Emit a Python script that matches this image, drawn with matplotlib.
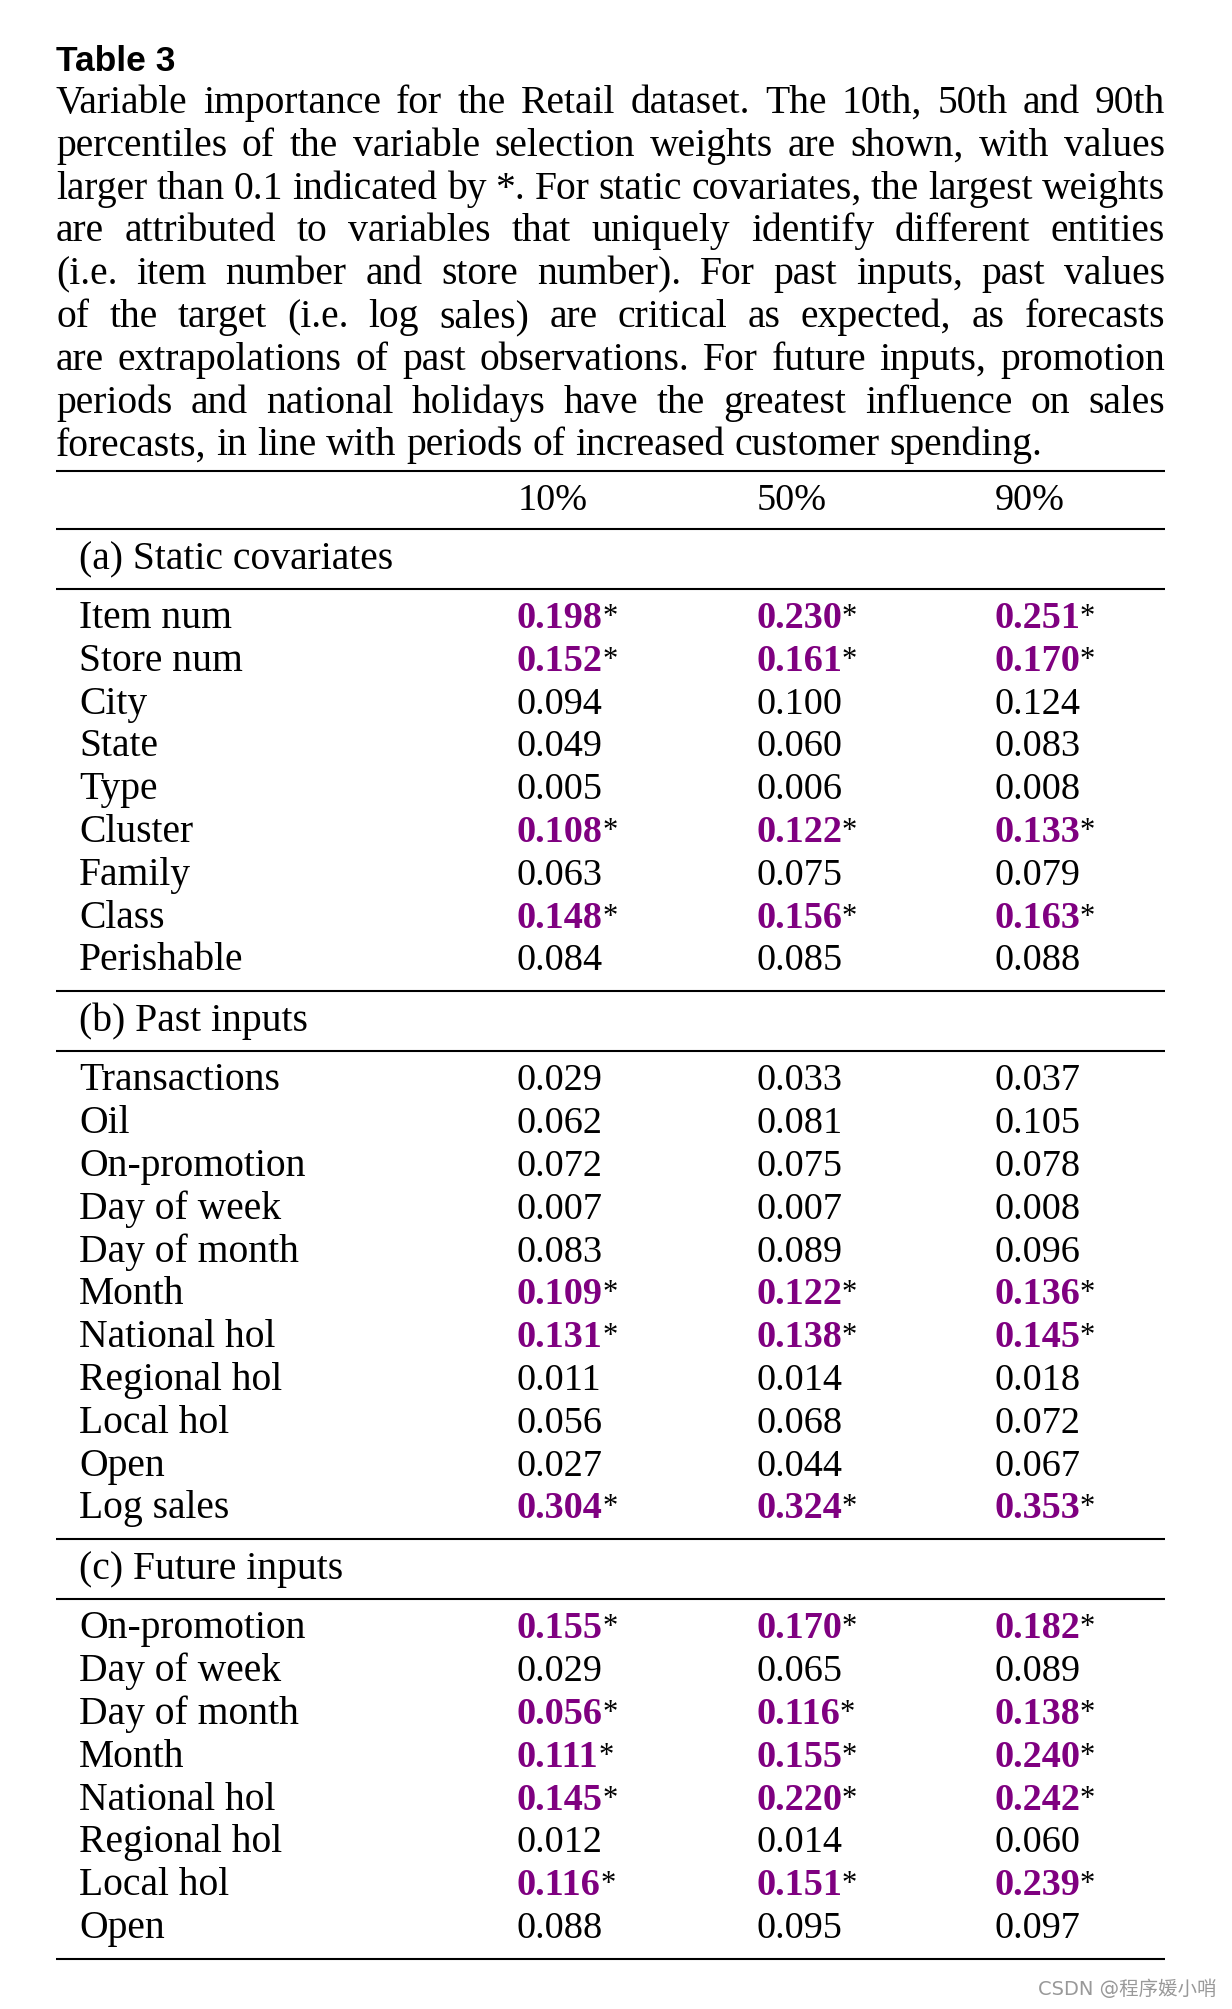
import matplotlib.pyplot as plt

## Table content
title = "Table 3"
caption_lines = [
    "Variable importance for the Retail dataset. The 10th, 50th and 90th",
    "percentiles of the variable selection weights are shown, with values",
    "larger than 0.1 indicated by *. For static covariates, the largest weights",
    "are attributed to variables that uniquely identify different entities",
    "(i.e. item number and store number). For past inputs, past values",
    "of the target (i.e. log sales) are critical as expected, as forecasts",
    "are extrapolations of past observations. For future inputs, promotion",
    "periods and national holidays have the greatest influence on sales",
    "forecasts, in line with periods of increased customer spending.",
]
col_headers = ["10%", "50%", "90%"]

static_names = ["Item num", "Store num", "City", "State", "Type", "Cluster",
                "Family", "Class", "Perishable"]
static_p10 = [0.198, 0.152, 0.094, 0.049, 0.005, 0.108, 0.063, 0.148, 0.084]
static_p50 = [0.230, 0.161, 0.100, 0.060, 0.006, 0.122, 0.075, 0.156, 0.085]
static_p90 = [0.251, 0.170, 0.124, 0.083, 0.008, 0.133, 0.079, 0.163, 0.088]

past_names = ["Transactions", "Oil", "On-promotion", "Day of week", "Day of month",
              "Month", "National hol", "Regional hol", "Local hol", "Open", "Log sales"]
past_p10 = [0.029, 0.062, 0.072, 0.007, 0.083, 0.109, 0.131, 0.011, 0.056, 0.027, 0.304]
past_p50 = [0.033, 0.081, 0.075, 0.007, 0.089, 0.122, 0.138, 0.014, 0.068, 0.044, 0.324]
past_p90 = [0.037, 0.105, 0.078, 0.008, 0.096, 0.136, 0.145, 0.018, 0.072, 0.067, 0.353]

future_names = ["On-promotion", "Day of week", "Day of month", "Month",
                "National hol", "Regional hol", "Local hol", "Open"]
future_p10 = [0.155, 0.029, 0.056, 0.111, 0.145, 0.012, 0.116, 0.088]
future_p50 = [0.170, 0.065, 0.116, 0.155, 0.220, 0.014, 0.151, 0.095]
future_p90 = [0.182, 0.089, 0.138, 0.240, 0.242, 0.060, 0.239, 0.097]

sections = [
    ("(a) Static covariates", static_names, static_p10, static_p50, static_p90),
    ("(b) Past inputs", past_names, past_p10, past_p50, past_p90),
    ("(c) Future inputs", future_names, future_p10, future_p50, future_p90),
]

## Layout (pixels)
W, H = 1232, 2009
FONT = "Liberation Serif"
SIZE = 28.5
NUM_SIZE = 27.5
PURPLE = "#7f0080"
LEFT, RIGHT = 56, 1165
LABEL_X = 79
COL_X = [517, 756, 994]
ROW_H = 42.8

fig = plt.figure(figsize=(W / 100, H / 100), dpi=100)
ax = fig.add_axes([0, 0, 1, 1])
ax.set_xlim(0, W)
ax.set_ylim(H, 0)
ax.axis("off")
renderer = fig.canvas.get_renderer()


def txt(x, y, s, **kw):
    opts = dict(family=FONT, fontsize=SIZE, va="baseline", ha="left", color="black")
    opts.update(kw)
    return ax.text(x, y, s, **opts)


def width(t):
    return t.get_window_extent(renderer).width


def rule(y):
    ax.plot([LEFT, RIGHT], [y, y], color="black", lw=1.5, solid_capstyle="butt")


## Title and justified caption
txt(LEFT, 71, title, family="Liberation Sans", weight="bold", fontsize=25.5)
y = 113
for i, line in enumerate(caption_lines):
    words = line.split(" ")
    items = [txt(0, y, w) for w in words]
    ws = [width(t) for t in items]
    if i < len(caption_lines) - 1:
        gap = (RIGHT - LEFT - sum(ws)) / (len(words) - 1)
    else:
        gap = width(txt(-500, y, " "))
    x = LEFT
    for t, w in zip(items, ws):
        t.set_x(x)
        x += w + gap
    y += ROW_H

## Table
rule(471)
for cx, h in zip(COL_X, col_headers):
    txt(cx + 1, 510, h, fontsize=NUM_SIZE)
rule(529)

top = 529
for name, labels, p10, p50, p90 in sections:
    txt(LABEL_X, top + 40, name)
    rule(top + 60)
    base = top + 60 + 39
    for j, lab in enumerate(labels):
        yy = base + j * ROW_H
        txt(LABEL_X, yy, lab)
        star = p50[j] > 0.1
        for cx, v in zip(COL_X, (p10[j], p50[j], p90[j])):
            if star:
                t = txt(cx, yy, "%.3f" % v, weight="bold", color=PURPLE,
                        fontsize=NUM_SIZE)
                txt(cx + width(t), yy - 3, "*", fontsize=22)
            else:
                txt(cx, yy, "%.3f" % v, fontsize=NUM_SIZE)
    top = base + (len(labels) - 1) * ROW_H + 21
    rule(top)

## Watermark
ax.text(1217, 1989, "CSDN @程序媛小哨", ha="right", va="center", fontsize=14,
        color="#999999", family=["DejaVu Sans", "Noto Sans CJK SC"])

fig.savefig("out.png", dpi=100)
